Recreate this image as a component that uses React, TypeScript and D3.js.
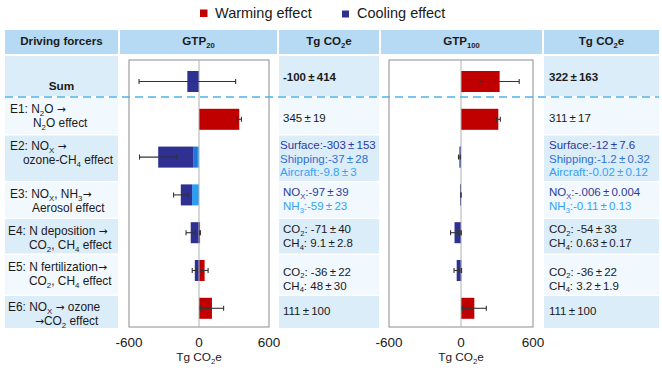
import React from "react";
import * as d3 from "d3";

// ---------- data ----------
const rowIds = ["Sum", "E1", "E2", "E3", "E4", "E5", "E6"];

const rowLabels: string[][] = [
  ["Sum"],
  ["E1: N_{2}O →", "N_{2}O effect"],
  ["E2: NO_{X} →", "ozone-CH_{4} effect"],
  ["E3: NO_{X}, NH_{3}→", "Aerosol effect"],
  ["E4: N deposition →", "CO_{2}, CH_{4} effect"],
  ["E5: N fertilization→", "CO_{2}, CH_{4} effect"],
  ["E6: NO_{X} → ozone", "→CO_{2} effect"],
];

// GTP20 (Tg CO2e)
const gtp20Warm = [0, 345, 0, 0, 9.1, 48, 111];
const gtp20WarmErr = [0, 19, 0, 0, 2.8, 30, 100];
const gtp20CoolDark = [-100, 0, -303, -97, -71, -36, 0];
const gtp20CoolMid = [0, 0, -37, 0, 0, 0, 0];
const gtp20CoolLight = [0, 0, -9.8, -59, 0, 0, 0];
const gtp20CoolErr = [414, 0, 160, 62, 40, 22, 0];

// GTP100 (Tg CO2e)
const gtp100Warm = [322, 311, 0, 0, 0.63, 3.2, 111];
const gtp100WarmErr = [163, 17, 0, 0, 0.17, 1.9, 100];
const gtp100CoolDark = [0, 0, -12, -0.006, -54, -36, 0];
const gtp100CoolMid = [0, 0, -1.2, 0, 0, 0, 0];
const gtp100CoolLight = [0, 0, -0.02, -0.11, 0, 0, 0];
const gtp100CoolErr = [0, 0, 7.6, 0.004, 33, 22, 0];

const gtp20Text: string[][] = [
  ["-100±414"],
  ["345±19"],
  ["Surface:-303±153", "Shipping:-37±28", "Aircraft:-9.8±3"],
  ["NO_{X}:-97±39", "NH_{3}:-59±23"],
  ["CO_{2}: -71±40", "CH_{4}: 9.1±2.8"],
  ["CO_{2}: -36±22", "CH_{4}: 48±30"],
  ["111±100"],
];
const gtp100Text: string[][] = [
  ["322±163"],
  ["311±17"],
  ["Surface:-12±7.6", "Shipping:-1.2±0.32", "Aircraft:-0.02±0.12"],
  ["NO_{X}:-.006±0.004", "NH_{3}:-0.11±0.13"],
  ["CO_{2}: -54±33", "CH_{4}: 0.63±0.17"],
  ["CO_{2}: -36±22", "CH_{4}: 3.2±1.9"],
  ["111±100"],
];

const xTicks = [-600, 0, 600];
const xDomain = [-600, 600];
const headers = ["Driving forcers", "GTP_{20}", "Tg CO_{2}e", "GTP_{100}", "Tg CO_{2}e"];
const legendItems = ["Warming effect", "Cooling effect"];

// ---------- styles / layout ----------
const C = {
  red: "#c00000",
  dark: "#2e3192",
  mid: "#1f78d8",
  light: "#2a9df4",
  head: "#b7daf4",
  rowA: "#dcedfa",
  rowB: "#f1f8fe",
  text: "#1a1a1a",
  dash: "#4db3ea",
};
const toneColor: Record<string, string> = {
  k: C.text,
  dark: "#2b3a9e",
  mid: "#2f6fd0",
  light: "#33a2f4",
};
const lineTones = [["k"], ["k"], ["dark", "mid", "light"], ["dark", "light"], ["k", "k"], ["k", "k"], ["k"]];

const FONT = "'Liberation Sans', Arial, sans-serif";
const cols = [
  [5, 118],
  [120, 277],
  [279, 379],
  [381, 542],
  [544, 659],
];
const rowEdges = [
  [56, 96],
  [98, 134],
  [135.5, 181],
  [182.5, 217.5],
  [219, 253.5],
  [255, 294.5],
  [296, 328],
];
const labelFirstY = [86, 109, 146, 194, 231, 267, 307];
const labelX0 = [0, 10, 10, 10, 8, 8, 8];
const labelIndent = [0, 33, 23, 32, 29, 29, 35];
const valueFirstY = [77, 118, 145, 192, 229, 271.5, 311];
const valueX3 = [283, 283, 280, 283, 283, 283, 283];
const LINE = 14.2;
const plotTop = 60;
const plotBottom = 327;
const SUB = 2.5;
const PM_GAP = 2.2;

function Rich({ s, x, y, ...rest }: any) {
  const parts: React.ReactNode[] = [];
  const re = /_\{([^}]*)\}|±|→/g;
  let last = 0;
  let m: RegExpExecArray | null;
  let k = 0;
  let shifted = false;
  let pendingDx = 0;
  while ((m = re.exec(s))) {
    if (m.index > last) {
      parts.push(
        <tspan key={k++} dy={shifted ? -SUB : undefined} dx={pendingDx || undefined}>
          {s.slice(last, m.index)}
        </tspan>
      );
      shifted = false;
      pendingDx = 0;
    }
    if (m[0] === "±") {
      parts.push(
        <tspan key={k++} dy={shifted ? -SUB : undefined} dx={PM_GAP}>
          ±
        </tspan>
      );
      shifted = false;
      pendingDx = PM_GAP;
    } else if (m[0] === "→") {
      parts.push(
        <tspan key={k++} dy={shifted ? -SUB : undefined} fontFamily="'DejaVu Sans', sans-serif" fontSize="0.9em">
          →
        </tspan>
      );
      shifted = false;
    } else {
      parts.push(
        <tspan key={k++} fontSize="0.66em" dy={shifted ? 0 : SUB}>
          {m[1]}
        </tspan>
      );
      shifted = true;
    }
    last = m.index + m[0].length;
  }
  if (last < s.length) {
    parts.push(
      <tspan key={k++} dy={shifted ? -SUB : undefined} dx={pendingDx || undefined}>
        {s.slice(last)}
      </tspan>
    );
  }
  return (
    <text x={x} y={y} {...rest}>
      {parts}
    </text>
  );
}

function Panel({
  x0,
  x1,
  warm,
  warmErr,
  coolDark,
  coolMid,
  coolLight,
  coolErr,
}: any) {
  const x = d3.scaleLinear().domain(xDomain).range([x0, x1]);
  const y = d3.scaleBand().domain(rowIds).range([62.6, 327.2]).paddingInner(0.444).paddingOuter(0.222);
  const bw = y.bandwidth();
  const cap = 2.5;
  const rectFor = (a: number, b: number, fill: string, key: string, cy: number) => {
    if (a === b) return null;
    let xa = x(Math.min(a, b));
    let xb = x(Math.max(a, b));
    if (xb - xa < 1) xa = xb - 1;
    return <rect key={key} x={xa} y={cy} width={xb - xa} height={bw} fill={fill} />;
  };
  const errBar = (c: number, e: number, key: string, cy: number) => {
    if (!e) return null;
    const a = x(c - e);
    const b = x(c + e);
    return (
      <g key={key} stroke="#333" strokeWidth={1.1}>
        <line x1={a} x2={b} y1={cy} y2={cy} />
        <line x1={a} x2={a} y1={cy - cap} y2={cy + cap} />
        <line x1={b} x2={b} y1={cy - cap} y2={cy + cap} />
      </g>
    );
  };
  return (
    <g>
      <rect x={x0} y={plotTop} width={x1 - x0} height={plotBottom - plotTop} fill="#fff" stroke="#8c8c8c" strokeWidth={1} />
      {rowIds.map((id, i) => {
        const top = y(id)!;
        const l = coolLight[i];
        const m = l + coolMid[i];
        const d = m + coolDark[i];
        return (
          <g key={id}>
            {rectFor(0, warm[i], C.red, "w", top)}
            {rectFor(0, l, C.light, "l", top)}
            {rectFor(l, m, C.mid, "m", top)}
            {rectFor(m, d, C.dark, "d", top)}
          </g>
        );
      })}
      <line x1={x(0)} x2={x(0)} y1={plotTop} y2={plotBottom} stroke="#b0b0b0" strokeWidth={1} />
      {rowIds.map((id, i) => {
        const cy = y(id)! + bw / 2;
        const total = coolLight[i] + coolMid[i] + coolDark[i];
        return (
          <g key={"e" + id}>
            {errBar(warm[i], warmErr[i], "we", cy)}
            {errBar(total, coolErr[i], "ce", cy)}
          </g>
        );
      })}
      {xTicks.map((t) => (
        <text key={t} x={x(t)} y={346.5} textAnchor="middle" fontSize={13.5} fill={C.text}>
          {t}
        </text>
      ))}
      <Rich s="Tg CO_{2}e" x={x(0)} y={361} textAnchor="middle" fontSize={11.8} fill={C.text} />
    </g>
  );
}

export default function App() {
  const W = 662;
  const H = 380;
  return (
    <svg
      width={W}
      height={H}
      viewBox={`0 0 ${W} ${H}`}
      style={{ position: "fixed", left: 0, top: 0, background: "#fff" }}
      fontFamily={FONT}
    >
      <rect width={W} height={H} fill="#fff" />
      {/* legend */}
      <rect x={200} y={9.5} width={7.5} height={7.5} fill={C.red} />
      <text x={215} y={18} fontSize={14.5} fill={C.text}>
        {legendItems[0]}
      </text>
      <rect x={342} y={10.5} width={7} height={7} fill={C.dark} />
      <text x={357} y={18} fontSize={14.5} fill={C.text}>
        {legendItems[1]}
      </text>

      {/* header */}
      {headers.map((h, i) => (
        <g key={"h" + i}>
          <rect x={cols[i][0]} y={30} width={cols[i][1] - cols[i][0]} height={24} fill={C.head} />
          <Rich
            s={h}
            x={(cols[i][0] + cols[i][1]) / 2}
            y={45}
            textAnchor="middle"
            fontSize={11.6}
            fontWeight="bold"
            fill={C.text}
          />
        </g>
      ))}

      {/* table cells */}
      {rowIds.map((id, i) => {
        const fill = i % 2 === 0 ? C.rowA : C.rowB;
        const [t, b] = rowEdges[i];
        return (
          <g key={"r" + id}>
            {[0, 2, 4].map((ci) => (
              <rect key={ci} x={cols[ci][0]} y={t} width={cols[ci][1] - cols[ci][0]} height={b - t} fill={fill} />
            ))}
          </g>
        );
      })}

      {/* row labels */}
      {rowLabels.map((lines, i) =>
        lines.map((ln, j) => (
          <Rich
            key={"lab" + i + j}
            s={ln}
            x={i === 0 ? (cols[0][0] + cols[0][1]) / 2 : j === 0 ? labelX0[i] : labelIndent[i]}
            y={labelFirstY[i] + j * LINE + 4.2}
            textAnchor={i === 0 ? "middle" : "start"}
            fontSize={i === 0 ? 11.8 : 11.9}
            fontWeight={i === 0 ? "bold" : "normal"}
            fill={C.text}
          />
        ))
      )}

      {/* value texts */}
      {[gtp20Text, gtp100Text].map((tbl, p) =>
        tbl.map((lines, i) =>
          lines.map((ln, j) => (
            <Rich
              key={"v" + p + i + j}
              s={ln}
              x={p === 0 ? valueX3[i] : 549}
              y={valueFirstY[i] + j * (lines.length === 3 ? 13.5 : 14) + 4.2}
              fontSize={11.5}
              fontWeight={i === 0 ? "bold" : "normal"}
              fill={toneColor[lineTones[i][j]]}
            />
          ))
        )
      )}

      <Panel
        x0={129}
        x1={269}
        warm={gtp20Warm}
        warmErr={gtp20WarmErr}
        coolDark={gtp20CoolDark}
        coolMid={gtp20CoolMid}
        coolLight={gtp20CoolLight}
        coolErr={gtp20CoolErr}
      />
      <Panel
        x0={389}
        x1={533}
        warm={gtp100Warm}
        warmErr={gtp100WarmErr}
        coolDark={gtp100CoolDark}
        coolMid={gtp100CoolMid}
        coolLight={gtp100CoolLight}
        coolErr={gtp100CoolErr}
      />

      {/* dashed separator */}
      <line x1={5} x2={659} y1={97} y2={97} stroke={C.dash} strokeWidth={1.6} strokeDasharray="8 5" />
    </svg>
  );
}
